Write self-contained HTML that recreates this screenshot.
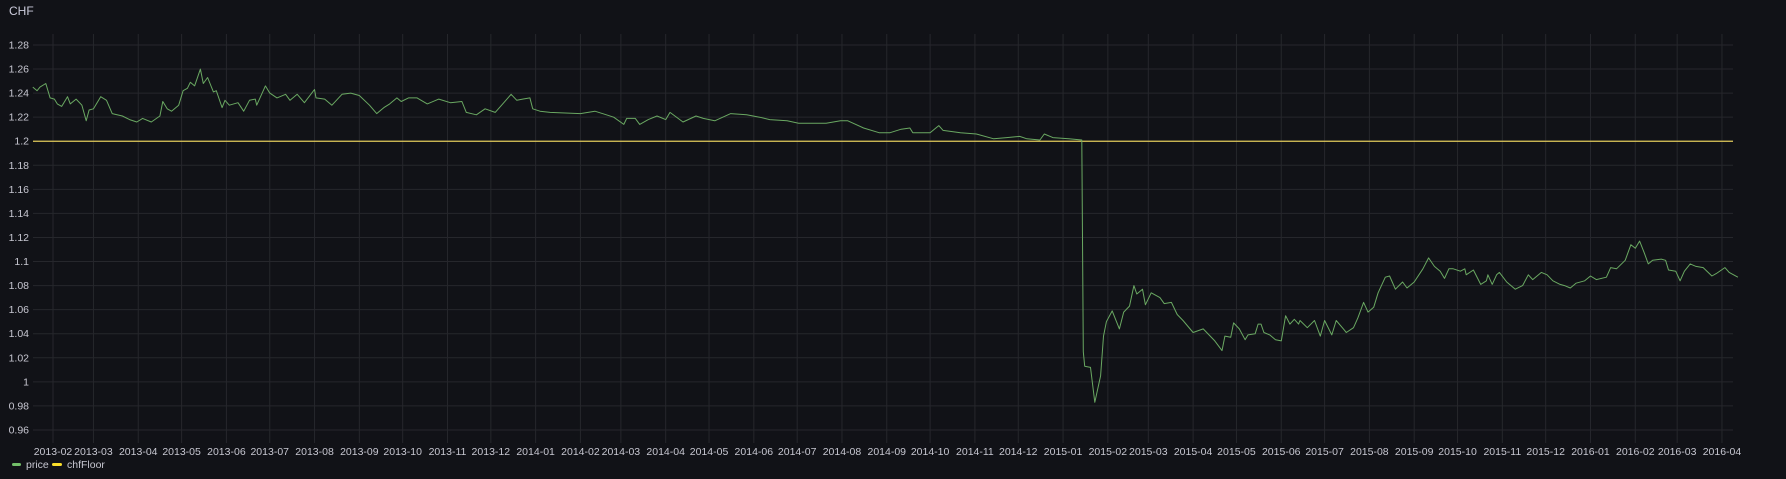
<!DOCTYPE html>
<html><head><meta charset="utf-8"><style>
html,body{margin:0;padding:0;background:#111217;width:1786px;height:479px;overflow:hidden;font-family:"Liberation Sans",sans-serif;}
#title{position:absolute;left:9px;top:4px;color:#ccccdc;font-size:12px;font-weight:500;}
svg{position:absolute;left:0;top:0;}
text{font-family:"Liberation Sans",sans-serif;fill:#c7c7d1;font-size:10.5px;}
</style></head><body>
<div id="title">CHF</div>
<svg id="chart" width="1786" height="479"></svg>
<script>
const days=[-14,-11,-9,-5,-2,1,3,6,10,12,16,20,23,25,28,33,37,41,48,53,58,62,68,74,76,79,82,87,90,93,95,98,102,104,107,111,113,117,119,122,128,132,136,140,141,147,150,155,161,164,169,174,181,182,188,193,200,206,212,219,224,229,233,238,241,246,252,259,267,275,283,286,293,299,306,312,317,321,325,330,332,337,344,
365,375,383,388,395,397,403,406,412,418,424,427,436,445,450,458,469,480,489,496,508,516,526,535,545,550,561,572,579,587,593,595,607,613,616,628,639,651,660,669,674,683,686,692,703,712,
713,714,718,721,725,727,729,733,738,741,745,748,750,754,756,760,766,769,774,778,782,789,796,800,804,809,811,815,817,821,825,827,832,834,836,838,842,846,850,853,856,859,862,863,868,873,877,880,885,888,893,895,900,903,907,910,914,917,922,925,929,934,937,942,
948,952,956,960,963,966,969,974,977,978,983,988,992,993,996,999,1001,1006,1012,1017,1021,1024,1030,1034,1038,1043,1046,1050,1054,1060,1064,1068,1075,1078,1082,1088,1092,1095,1098,1101,1104,1107,1113,1116,1118,1123,1126,1129,1133,1137,1142,1148,1151,1157,1160,1166];
const price=[1.245,1.242,1.245,1.248,1.236,1.235,1.231,1.229,1.237,1.231,1.235,1.230,1.217,1.226,1.227,1.237,1.234,1.223,1.221,1.218,1.216,1.219,1.216,1.221,1.233,1.227,1.225,1.230,1.242,1.244,1.249,1.246,1.260,1.248,1.253,1.241,1.242,1.228,1.234,1.230,1.232,1.225,1.234,1.235,1.230,1.246,1.240,1.236,1.239,1.234,1.239,1.232,1.243,1.236,1.235,1.230,1.239,1.240,1.238,1.230,1.223,1.228,1.231,1.236,1.233,1.236,1.236,1.231,1.235,1.232,1.233,1.224,1.222,1.227,1.224,1.232,1.239,1.234,1.235,1.236,1.227,1.225,1.224,
1.223,1.225,1.222,1.220,1.214,1.219,1.219,1.214,1.218,1.221,1.218,1.224,1.216,1.221,1.219,1.217,1.223,1.222,1.220,1.218,1.217,1.215,1.215,1.215,1.217,1.217,1.211,1.207,1.207,1.210,1.211,1.207,1.207,1.213,1.209,1.207,1.206,1.202,1.203,1.204,1.202,1.201,1.206,1.203,1.202,1.201,
1.025,1.013,1.012,0.983,1.005,1.038,1.050,1.059,1.044,1.058,1.063,1.080,1.073,1.077,1.064,1.074,1.070,1.065,1.066,1.056,1.051,1.041,1.044,1.039,1.034,1.026,1.038,1.037,1.049,1.044,1.035,1.039,1.040,1.048,1.048,1.041,1.039,1.035,1.034,1.055,1.048,1.052,1.048,1.051,1.045,1.051,1.038,1.051,1.039,1.051,1.044,1.041,1.045,1.053,1.066,1.058,1.062,1.074,1.087,1.088,1.077,1.083,1.078,1.083,
1.094,1.103,1.096,1.092,1.086,1.094,1.094,1.092,1.094,1.089,1.093,1.081,1.084,1.089,1.081,1.089,1.091,1.083,1.077,1.080,1.089,1.085,1.091,1.089,1.084,1.081,1.080,1.078,1.082,1.084,1.088,1.085,1.087,1.095,1.094,1.101,1.114,1.111,1.117,1.108,1.098,1.101,1.102,1.101,1.093,1.092,1.084,1.092,1.098,1.096,1.095,1.088,1.090,1.095,1.091,1.087];
const floorValue=[1.2];
const yTicks=[1.28,1.26,1.24,1.22,1.2,1.18,1.16,1.14,1.12,1.1,1.08,1.06,1.04,1.02,1,0.98,0.96];
const xTicks=["2013-02","2013-03","2013-04","2013-05","2013-06","2013-07","2013-08","2013-09","2013-10","2013-11","2013-12","2014-01","2014-02","2014-03","2014-04","2014-05","2014-06","2014-07","2014-08","2014-09","2014-10","2014-11","2014-12","2015-01","2015-02","2015-03","2015-04","2015-05","2015-06","2015-07","2015-08","2015-09","2015-10","2015-11","2015-12","2016-01","2016-02","2016-03","2016-04"];

const NS="http://www.w3.org/2000/svg";
const svg=document.getElementById('chart');
const L=33,R=1733,T=34,B=443;
const base=Date.UTC(2013,1,1);
function xs(d){return 53+d*1.445;}
function ys(v){return 45+(1.28-v)*1203;}
function mk(tag,attrs){const e=document.createElementNS(NS,tag);for(const k in attrs)e.setAttribute(k,attrs[k]);svg.appendChild(e);return e;}
yTicks.forEach(v=>{
  const y=ys(v);
  const g=mk('line',{x1:L,x2:R,y1:y,y2:y,stroke:'#26272c','stroke-width':1});
  
  
  const t=mk('text',{x:29,y:y+3.5,'text-anchor':'end'});
  t.textContent=String(v);
  
  
});
xTicks.forEach(s=>{
  const p=s.split('-');
  const d=(Date.UTC(+p[0],+p[1]-1,1)-base)/86400000;
  const x=xs(d);
  const g=mk('line',{x1:x,x2:x,y1:T,y2:B,stroke:'#26272c','stroke-width':1});
  
  
  const t=mk('text',{x:x,y:455,'text-anchor':'middle'});
  t.textContent=s;
  
  
});
const fy=ys(floorValue[0]);
const fl=mk('line',{x1:L,x2:R,y1:fy,y2:fy,stroke:'#e0c95a','stroke-width':1.2});


let dstr='';
days.forEach((d,i)=>{dstr+=(i?'L':'M')+xs(d).toFixed(1)+' '+ys(price[i]).toFixed(1);});
const pl=mk('path',{d:dstr,fill:'none',stroke:'#6aa862','stroke-width':1,'stroke-linejoin':'round'});


// legend
const lg1=mk('rect',{x:12,y:463,width:9,height:3,rx:1.5,fill:'#73bf69'});


const lt1=mk('text',{x:26,y:468});lt1.textContent='price';


const lg2=mk('rect',{x:52,y:463,width:10,height:3,rx:1.5,fill:'#fade2a'});


const lt2=mk('text',{x:67,y:468});lt2.textContent='chfFloor';


</script>
</body></html>
